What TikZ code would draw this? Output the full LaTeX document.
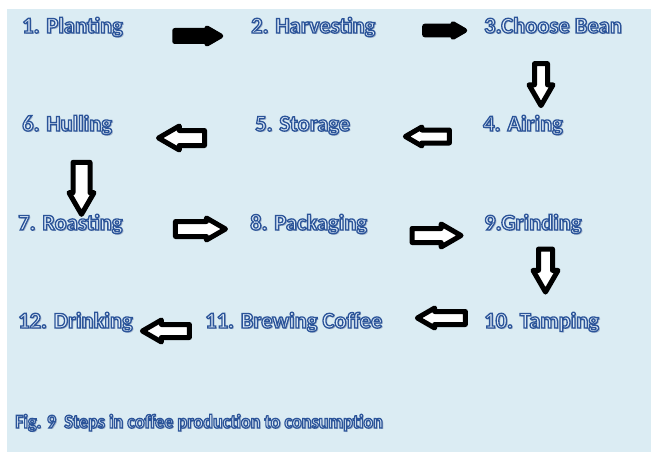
\documentclass[tikz,border=0pt]{standalone}
\usepackage{fontspec}
\setmainfont{Carlito}
\usetikzlibrary{shapes.arrows}
\definecolor{bgblue}{RGB}{219,236,243}
\definecolor{shadowc}{RGB}{165,182,204}
\newcommand{\outl}[1]{\special{pdf:literal direct 2 Tr 1.3 w 0.17 0.33 0.6 RG 0.87 0.92 0.97 rg}#1\special{pdf:literal direct 0 Tr}}
\tikzset{
  lbl/.style={anchor=base west, inner sep=0pt, font=\fontsize{22.5}{24}\selectfont\bfseries},
  captionlbl/.style={anchor=base west, inner sep=0pt, font=\fontsize{19.5}{21}\selectfont\bfseries},
  blk/.style={single arrow, draw=black, fill=white, line width=5pt, line join=round,
    single arrow tip angle=60, outer sep=0pt},
  blkfull/.style={blk, fill=black}
}
\newcommand{\steplabel}[5]{%
  \node[#5, text=shadowc] at (#2+1.4,#3+1.4) {#4};
  \node[#5] (#1) at (#2,#3) {\outl{#4}};}
\newcommand{\blkarrow}[8]{%
  \node[#8, rotate=#4, minimum height=#5pt, inner sep=#6pt, single arrow head extend=#7pt] (#1) at (#2,#3) {};}
\begin{document}
\begin{tikzpicture}[x=1pt,y=-1pt]
\fill[white] (0,0) rectangle (651,452);
\fill[bgblue] (7,9) rectangle (651,452);
\useasboundingbox (0,0) rectangle (651,452);
% block arrows
\blkarrow{a1}{193}{36}{0}{46}{3}{2.5}{blkfull}
\blkarrow{a2}{441}{30.5}{0}{40}{1.8}{2.5}{blkfull}
\blkarrow{a3}{541}{79}{-90}{42}{4}{5.5}{blk}
\blkarrow{a4}{433}{136.5}{180}{44}{4}{3}{blk}
\blkarrow{a5}{188}{138}{180}{46}{5}{4.5}{blk}
\blkarrow{a6}{81.5}{181}{-90}{52}{6}{4}{blk}
\blkarrow{a7}{194}{229}{0}{50}{5}{3.5}{blk}
\blkarrow{a8}{430.5}{235.5}{0}{49}{4.5}{4.5}{blk}
\blkarrow{a9}{545.5}{264.5}{-90}{43}{4.5}{5.5}{blk}
\blkarrow{a10}{447}{318}{180}{48}{4}{3.5}{blk}
\blkarrow{a11}{171.5}{331}{180}{47}{4}{4.5}{blk}
% labels
\steplabel{s1}{22}{33}{1. Planting}{lbl}
\steplabel{s2}{251}{33}{2. Harvesting}{lbl}
\steplabel{s3}{484}{33}{3.Choose Bean}{lbl}
\steplabel{s6}{22}{131}{6. Hulling}{lbl}
\steplabel{s5}{255}{131}{5. Storage}{lbl}
\steplabel{s4}{483}{131}{4. Airing}{lbl}
\steplabel{s7}{18}{230}{7. Roasting}{lbl}
\steplabel{s8}{250}{230}{8. Packaging}{lbl}
\steplabel{s9}{484}{230}{9.Grinding}{lbl}
\steplabel{s12}{18}{328}{12. Drinking}{lbl}
\steplabel{s11}{205}{328}{11. Brewing Coffee}{lbl}
\steplabel{s10}{484}{328}{10. Tamping}{lbl}
\steplabel{capt}{15}{428}{\scalebox{0.93}[1]{Fig. 9\ \ Steps in coffee production to consumption}}{captionlbl}
\end{tikzpicture}
\end{document}
